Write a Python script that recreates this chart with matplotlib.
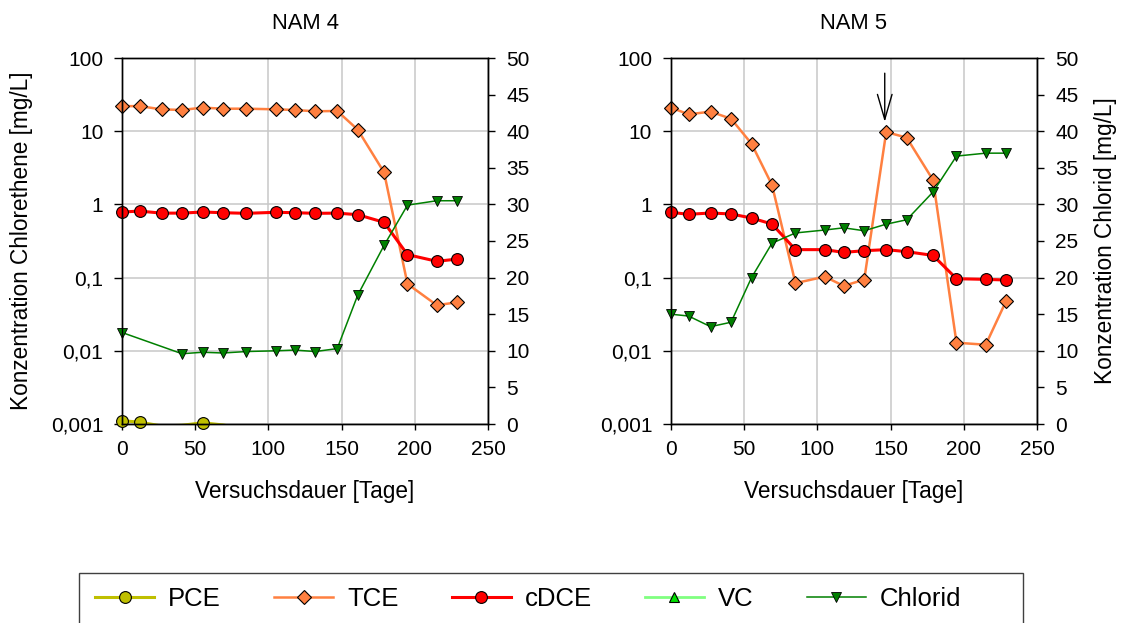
import matplotlib.pyplot as plt
from matplotlib.ticker import FuncFormatter, FixedLocator, NullLocator
from matplotlib.lines import Line2D
from matplotlib.patches import Rectangle

plt.rcParams['font.family'] = ['Liberation Sans', 'DejaVu Sans']
plt.rcParams['font.size'] = 15

# Versuchsdauer [Tage]
days = [0, 12, 27, 41, 55, 69, 85, 105, 118, 132, 147, 161, 179, 195, 215, 229]

# NAM 4
pce4_days = [0, 12, 27, 41, 55, 69, 85]
pce4 = [0.00111, 0.00106, 0.00094, 0.00096, 0.00104, 0.00097, 0.00085]
tce4 = [22.0, 22.0, 19.9, 19.5, 21.0, 20.3, 20.3, 19.9, 19.5, 18.7, 18.9, 10.5, 2.74, 0.082, 0.042, 0.046]
cdce4 = [0.787, 0.81, 0.76, 0.76, 0.787, 0.77, 0.755, 0.78, 0.77, 0.755, 0.76, 0.724, 0.569, 0.206, 0.167, 0.179]
cl4_days = [0, 41, 55, 69, 85, 105, 118, 132, 147, 161, 179, 195, 215, 229]
cl4 = [12.5, 9.6, 9.8, 9.7, 9.9, 10.0, 10.1, 9.9, 10.3, 17.6, 24.4, 29.9, 30.5, 30.5]

# NAM 5
pce5_days = []
pce5 = []
tce5 = [21.0, 17.0, 18.5, 14.8, 6.75, 1.84, 0.084, 0.103, 0.077, 0.094, 9.75, 8.16, 2.15, 0.0129, 0.0121, 0.0484]
cdce5 = [0.779, 0.732, 0.763, 0.740, 0.652, 0.539, 0.241, 0.241, 0.221, 0.233, 0.241, 0.226, 0.201, 0.0966, 0.0946, 0.0927]
cl5_days = days
cl5 = [15.0, 14.75, 13.3, 13.9, 20.0, 24.7, 26.1, 26.5, 26.8, 26.4, 27.3, 27.9, 31.7, 36.6, 37.0, 37.0]

# VC: no values above detection limit
vc_days = []
vc = []

panels = [
    ("NAM 4", pce4_days, pce4, tce4, cdce4, cl4_days, cl4),
    ("NAM 5", pce5_days, pce5, tce5, cdce5, cl5_days, cl5),
]

pce_col = '#bfbf00'
tce_col = '#ff8040'
cdce_col = '#ff0000'
vc_line = '#80ff80'
vc_col = '#00e000'
cl_col = '#008000'

tick_fs = 15
label_fs = 16.3


def comma(v, pos):
    return ('%g' % v).replace('.', ',')


fig = plt.figure(figsize=(11.21, 6.23), dpi=100)
lefts = [122 / 1121, 671 / 1121]

for i, (title, pd_, pv, tv, cv, cld, clv) in enumerate(panels):
    ax = fig.add_axes([lefts[i], 199 / 623, 366 / 1121, 366 / 623])
    ax2 = ax.twinx()

    # PCE: line clipped at the plot area, markers only for points inside it
    ax.plot(pd_, pv, color=pce_col, lw=2.2)
    inside = [k for k, v in enumerate(pv) if v >= 0.001]
    ax.plot(pd_, pv, ls='none', marker='o', ms=8.5, mfc=pce_col, mec='black', mew=0.8,
            markevery=inside, clip_on=False)
    ax.plot(days, tv, color=tce_col, lw=1.8, marker='D', ms=7, mfc=tce_col, mec='black', mew=0.8,
            clip_on=False)
    ax.plot(days, cv, color=cdce_col, lw=2.2, marker='o', ms=8.5, mfc=cdce_col, mec='black', mew=0.8,
            clip_on=False)
    ax.plot(vc_days, vc, color=vc_line, lw=2, marker='^', ms=7, mfc=vc_col, mec='black', mew=0.8)
    ax2.plot(cld, clv, color=cl_col, lw=1.1, marker='v', ms=7.5, mfc=cl_col, mec='black', mew=0.6,
             clip_on=False)

    ax.set_yscale('log')
    ax.set_ylim(0.001, 100)
    ax.set_xlim(0, 250)
    ax.yaxis.set_major_locator(FixedLocator([0.001, 0.01, 0.1, 1, 10, 100]))
    ax.yaxis.set_minor_locator(NullLocator())
    ax.yaxis.set_major_formatter(FuncFormatter(comma))
    ax.set_xticks([0, 50, 100, 150, 200, 250])
    ax2.set_ylim(0, 50)
    ax2.set_yticks(range(0, 51, 5))

    ax.grid(True, color='#c8c8c8', lw=1.1)
    ax.set_axisbelow(True)
    ax.tick_params(axis='y', direction='out', length=5.5, width=1, pad=8, labelsize=tick_fs)
    ax.tick_params(axis='x', direction='out', length=4.5, width=1, pad=7, labelsize=tick_fs)
    ax2.tick_params(axis='y', direction='out', length=5, width=1, pad=8, labelsize=tick_fs)
    for a in (ax, ax2):
        for s in a.spines.values():
            s.set_color('black')
            s.set_linewidth(1)

    ax.set_title(title, fontsize=15.8, pad=21)
    ax.set_xlabel('Versuchsdauer [Tage]', fontsize=label_fs)
    ax.xaxis.set_label_coords(0.5, -0.152)

    if i == 0:
        ax.set_ylabel('Konzentration Chlorethene [mg/L]', fontsize=label_fs)
        ax.yaxis.set_label_coords(-0.243, 0.5)
    else:
        ax2.set_ylabel('Konzentration Chlorid [mg/L]', fontsize=label_fs)
        ax2.yaxis.set_label_coords(1.157, 0.5)
        ax.annotate('', xy=(146, 13.4), xytext=(146, 62),
                    arrowprops=dict(arrowstyle='->,head_length=1.2,head_width=0.35',
                                    color='black', lw=1, shrinkA=0, shrinkB=0,
                                    mutation_scale=15))

handles = [
    Line2D([], [], color=pce_col, lw=2.2, marker='o', ms=8.5, mfc=pce_col, mec='black', mew=0.8),
    Line2D([], [], color=tce_col, lw=1.8, marker='D', ms=7.5, mfc=tce_col, mec='black', mew=0.8),
    Line2D([], [], color=cdce_col, lw=2.2, marker='o', ms=8.5, mfc=cdce_col, mec='black', mew=0.8),
    Line2D([], [], color=vc_line, lw=2, marker='^', ms=7.5, mfc=vc_col, mec='black', mew=0.8),
    Line2D([], [], color=cl_col, lw=1.1, marker='v', ms=7, mfc=cl_col, mec='black', mew=0.6),
]
fig.legend(handles, ['PCE', 'TCE', 'cDCE', 'VC', 'Chlorid'], ncol=5,
           loc='upper left', bbox_to_anchor=(81 / 1121, 1 - 573 / 623),
           fontsize=18.5, frameon=False, handlelength=2.3, columnspacing=2.06,
           handletextpad=0.55, borderpad=0.55, borderaxespad=0)
fig.patches.append(Rectangle((79 / 1121, -0.1), 944 / 1121, 0.1 + 1 - 573 / 623,
                             transform=fig.transFigure, fill=False,
                             edgecolor='#404040', lw=1))

fig.savefig('out.png', dpi=100)
